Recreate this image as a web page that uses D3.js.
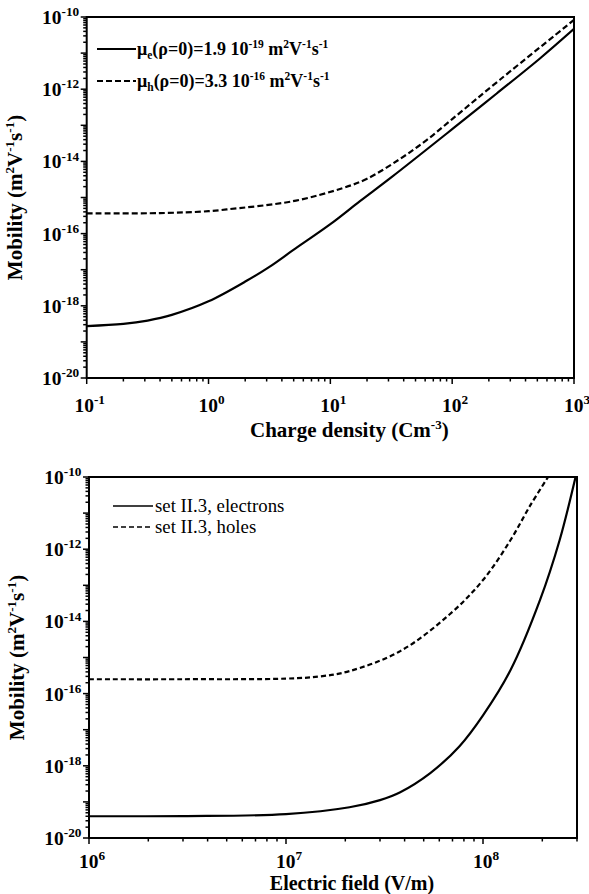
<!DOCTYPE html>
<html>
<head>
<meta charset="utf-8">
<script src="https://cdn.jsdelivr.net/npm/d3@7"></script>
<style>
  body { margin: 0; background: #fff; }
  text { font-family: "Liberation Serif", "Times New Roman", serif; fill: #000; }
</style>
</head>
<body>
<svg id="mainsvg" width="589" height="894" font-family="Liberation Serif"></svg>
<script>
// top panel: mobility vs charge density
const rhoE = [0.1, 0.2, 0.316, 0.5, 1, 2.07, 3.16, 4.94, 10, 17.5, 31.6, 100, 232, 525, 1000];
const muE = [2.75e-19, 3.16e-19, 3.9e-19, 5.6e-19, 1.33e-18, 5.0e-18, 1.2e-17, 3.47e-17, 1.82e-16, 7.9e-16, 3.6e-15, 7.8e-14, 7.6e-13, 7.1e-12, 4.7e-11];
const rhoH = [0.1, 0.4, 1, 1.41, 4.94, 12.6, 20, 37, 61.7, 100, 245, 1000];
const muH = [3.63e-16, 3.7e-16, 4.17e-16, 4.68e-16, 7.9e-16, 1.82e-15, 3.3e-15, 1.15e-14, 3.9e-14, 1.48e-13, 1.8e-12, 8.3e-11];

// bottom panel: mobility vs electric field
const fieldE = [1e6, 3e6, 1e7, 2.1e7, 3e7, 3.8e7, 5.4e7, 7.6e7, 1e8, 1.38e8, 1.95e8, 2.45e8, 2.95e8];
const muFE = [4.0e-20, 4.05e-20, 4.6e-20, 7.1e-20, 1.12e-19, 1.86e-19, 6.3e-19, 3.5e-18, 2.5e-17, 4.5e-16, 4.0e-14, 1.8e-12, 1e-10];
const fieldH = [1e6, 3e6, 1e7, 1.5e7, 2.1e7, 3.8e7, 6.8e7, 1e8, 1.38e8, 1.74e8, 2.14e8];
const muFH = [2.5e-16, 2.5e-16, 2.6e-16, 3.0e-16, 4.2e-16, 1.5e-15, 1.6e-14, 1.4e-13, 1.8e-12, 1.66e-11, 1e-10];

const yTickExp = [-20, -18, -16, -14, -12, -10];
const topXExp = [-1, 0, 1, 2, 3];
const botXExp = [6, 7, 8];

const topLegend = [
  { dash: null, sub: 'e', val: '1.9', exp: '-19' },
  { dash: '6,3', sub: 'h', val: '3.3', exp: '-16' }
];
const botLegend = [
  { dash: null, label: 'set II.3, electrons' },
  { dash: '5,3', label: 'set II.3, holes' }
];

const svg = d3.select('#mainsvg');

// "10" followed by a raised exponent
const powLabel = (sel, exp, size) => {
  sel.append('tspan').text('10');
  sel.append('tspan').text(exp)
    .attr('font-size', size * 0.68)
    .attr('dy', -size * 0.4);
};

// text with alternating normal / superscript parts
const supText = (sel, parts, sup, shift) => {
  let up = false;
  parts.forEach(p => {
    const t = sel.append('tspan').text(p.t);
    if (p.sup && !up) { t.attr('font-size', sup).attr('dy', -shift); up = true; }
    else if (p.sup) { t.attr('font-size', sup); }
    else if (up) { t.attr('dy', shift); up = false; }
  });
};

const mobilityParts = [
  { t: 'Mobility (m' }, { t: '2', sup: true }, { t: 'V' }, { t: '-1', sup: true },
  { t: 's' }, { t: '-1', sup: true }, { t: ')' }
];

const drawPanel = (cfg) => {
  const { left, right, top, bottom, xDomain, xExp, labelDy } = cfg;
  const g = svg.append('g');
  const xScale = d3.scaleLog().domain(xDomain).range([left, right]);
  const yScale = d3.scaleLog().domain([1e-20, 1e-10]).range([bottom, top]);

  const clipId = 'clip' + top;
  svg.append('clipPath').attr('id', clipId)
    .append('rect').attr('x', left).attr('y', top)
    .attr('width', right - left).attr('height', bottom - top);

  // minor + major ticks on x
  const xMin = Math.log10(xDomain[0]), xMax = Math.log10(xDomain[1]);
  const xTicks = [];
  for (let e = Math.floor(xMin); e <= Math.ceil(xMax); e++) {
    for (let m = 1; m < 10; m++) {
      const v = m * Math.pow(10, e);
      if (v >= xDomain[0] * 0.999 && v <= xDomain[1] * 1.001) xTicks.push({ v, major: m === 1 });
    }
  }
  g.selectAll('.xt').data(xTicks).join('line')
    .attr('x1', d => xScale(d.v)).attr('x2', d => xScale(d.v))
    .attr('y1', bottom).attr('y2', d => bottom + (d.major ? 6 : 3.5))
    .attr('stroke', '#000').attr('stroke-width', 1.5);

  const yTicks = [];
  for (let e = -20; e <= -10; e++) {
    for (let m = 1; m < 10; m++) {
      const v = m * Math.pow(10, e);
      if (v <= 1.0001e-10) yTicks.push({ v, major: m === 1 });
    }
  }
  g.selectAll('.yt').data(yTicks).join('line')
    .attr('y1', d => yScale(d.v)).attr('y2', d => yScale(d.v))
    .attr('x1', left).attr('x2', d => left - (d.major ? 6 : 3.5))
    .attr('stroke', '#000').attr('stroke-width', 1.5);

  // tick labels
  g.selectAll('.xl').data(xExp).join('text')
    .attr('x', d => xScale(Math.pow(10, d)) + 3)
    .attr('y', bottom + labelDy)
    .attr('text-anchor', 'middle')
    .attr('font-size', 19.5).attr('font-weight', 'bold')
    .each(function (d) { powLabel(d3.select(this), d, 19.5); });

  g.selectAll('.yl').data(yTickExp).join('text')
    .attr('x', left - 7.5)
    .attr('y', d => yScale(Math.pow(10, d)) + 7)
    .attr('text-anchor', 'end')
    .attr('font-size', 19.5).attr('font-weight', 'bold')
    .each(function (d) { powLabel(d3.select(this), d, 19.5); });

  // frame
  g.append('rect')
    .attr('x', left).attr('y', top)
    .attr('width', right - left).attr('height', bottom - top)
    .attr('fill', 'none').attr('stroke', '#000').attr('stroke-width', 2);

  // y title
  const yt = g.append('text')
    .attr('transform', `translate(${left - 65}, ${(top + bottom) / 2}) rotate(-90)`)
    .attr('text-anchor', 'middle')
    .attr('font-size', 21).attr('font-weight', 'bold');
  supText(yt, mobilityParts, 13, 8);

  const line = d3.line()
    .x(d => xScale(d[0])).y(d => yScale(d[1]))
    .curve(d3.curveCatmullRom.alpha(0.5));

  cfg.series.forEach(s => {
    g.append('path')
      .datum(d3.zip(s.x, s.y))
      .attr('clip-path', `url(#${clipId})`)
      .attr('d', line)
      .attr('fill', 'none').attr('stroke', '#000')
      .attr('stroke-width', 2.2)
      .attr('stroke-dasharray', s.dash);
  });

  return { g, xScale, yScale };
};

// top panel
const p1 = drawPanel({
  left: 86.7, right: 574, top: 17, bottom: 378, labelDy: 34,
  xDomain: [0.1, 1000], xExp: topXExp,
  series: [
    { x: rhoE, y: muE, dash: null },
    { x: rhoH, y: muH, dash: '6,3' }
  ]
});
const t1 = p1.g.append('text')
  .attr('x', (86.7 + 574) / 2 + 19).attr('y', 437)
  .attr('text-anchor', 'middle').attr('font-size', 21).attr('font-weight', 'bold');
supText(t1, [{ t: 'Charge density (Cm' }, { t: '-3', sup: true }, { t: ')' }], 13, 8);

topLegend.forEach((d, i) => {
  const y = 49 + i * 32;
  p1.g.append('line').attr('x1', 97).attr('x2', 136).attr('y1', y).attr('y2', y)
    .attr('stroke', '#000').attr('stroke-width', 2.2).attr('stroke-dasharray', d.dash);
  const t = p1.g.append('text').attr('x', 137).attr('y', y + 6)
    .attr('font-size', 18).attr('font-weight', 'bold');
  t.append('tspan').text('μ');
  t.append('tspan').text(d.sub).attr('font-size', 11.5).attr('dy', 4);
  t.append('tspan').text(`(ρ=0)=${d.val} 10`).attr('dy', -4);
  t.append('tspan').text(d.exp).attr('font-size', 11.5).attr('dy', -7);
  t.append('tspan').text(' m').attr('dy', 7);
  t.append('tspan').text('2').attr('font-size', 11.5).attr('dy', -7);
  t.append('tspan').text('V').attr('dy', 7);
  t.append('tspan').text('-1').attr('font-size', 11.5).attr('dy', -7);
  t.append('tspan').text('s').attr('dy', 7);
  t.append('tspan').text('-1').attr('font-size', 11.5).attr('dy', -7);
});

// bottom panel
const p2 = drawPanel({
  left: 89, right: 577, top: 477, bottom: 838, labelDy: 30,
  xDomain: [1e6, 3e8], xExp: botXExp,
  series: [
    { x: fieldE, y: muFE, dash: null },
    { x: fieldH, y: muFH, dash: '5,3' }
  ]
});
p2.g.append('text')
  .attr('x', (89 + 577) / 2 + 19).attr('y', 890)
  .attr('text-anchor', 'middle').attr('font-size', 20).attr('font-weight', 'bold')
  .text('Electric field (V/m)');

botLegend.forEach((d, i) => {
  const y = 506 + i * 21;
  p2.g.append('line').attr('x1', 113).attr('x2', 153).attr('y1', y).attr('y2', y)
    .attr('stroke', '#000').attr('stroke-width', 1.6).attr('stroke-dasharray', d.dash);
  p2.g.append('text').attr('x', 155).attr('y', y + 6)
    .attr('font-size', 18.8).text(d.label);
});
</script>
</body>
</html>
